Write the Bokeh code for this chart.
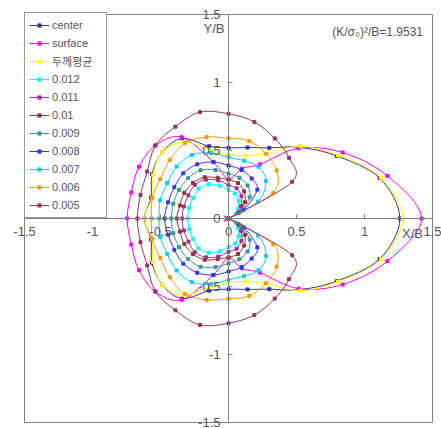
import numpy as np
from bokeh.plotting import figure
from bokeh.models import Legend, LegendItem, FixedTicker, Label
from bokeh.embed import file_html
from bokeh.resources import INLINE

# polar readings: radius at angles 0..180 deg (step 15); lower half mirrors the upper half
ANGLES_DEG = [0, 15, 30, 45, 60, 75, 90, 105, 120, 135, 150, 165, 180]

SERIES_NAMES = ["center", "surface", "두께평균", "0.012", "0.011", "0.01",
                "0.009", "0.008", "0.007", "0.006", "0.005"]

R_CENTER = [1.26, 1.15, 0.92, 0.74, 0.60, 0.54, 0.52, 0.55, 0.68, 0.69, 0.65, 0.59, 0.62]
R_SURFACE = [1.42, 1.21, 0.97, 0.73, 0.46, 0.38, 0.29, 0.43, 0.69, 0.76, 0.76, 0.74, 0.745]
R_THICK_AVG = [1.28, 1.16, 0.93, 0.75, 0.55, 0.48, 0.47, 0.52, 0.65, 0.69, 0.64, 0.58, 0.625]
R_0012 = [0, 0, 0.06, 0.10, 0.15, 0.19, 0.21, 0.25, 0.29, 0.31, 0.30, 0.30, 0.30]
R_0011 = [0, 0, 0.08, 0.13, 0.19, 0.23, 0.245, 0.29, 0.33, 0.35, 0.34, 0.34, 0.34]
R_0010 = [0, 0, 0.09, 0.17, 0.23, 0.27, 0.285, 0.31, 0.35, 0.37, 0.375, 0.37, 0.38]
R_0009 = [0, 0, 0.11, 0.22, 0.28, 0.31, 0.33, 0.37, 0.41, 0.42, 0.42, 0.42, 0.42]
R_0008 = [0, 0, 0.13, 0.30, 0.34, 0.37, 0.39, 0.43, 0.46, 0.47, 0.46, 0.46, 0.47]
R_0007 = [0, 0, 0.25, 0.39, 0.44, 0.44, 0.45, 0.50, 0.54, 0.54, 0.52, 0.52, 0.51]
R_0006 = [0, 0, 0.38, 0.50, 0.55, 0.59, 0.59, 0.62, 0.64, 0.61, 0.58, 0.58, 0.565]
R_0005 = [0, 0, 0.54, 0.63, 0.68, 0.735, 0.77, 0.81, 0.78, 0.76, 0.69, 0.67, 0.67]

SERIES_R = [R_CENTER, R_SURFACE, R_THICK_AVG, R_0012, R_0011, R_0010,
            R_0009, R_0008, R_0007, R_0006, R_0005]

COLORS = ["#333399", "#FF00FF", "#FFFF00", "#00FFFF", "#993399", "#993333",
          "#339999", "#3333FF", "#00CCFF", "#FF9900", "#993366"]

TICKS = [-1.5, -1.0, -0.5, 0.0, 0.5, 1.0, 1.5]
TICK_LABELS = ["-1.5", "-1", "-0.5", "0", "0.5", "1", "1.5"]

FONT = "Liberation Sans, Noto Sans CJK KR"
GRAY_TXT = "#555555"
GRAY_LINE = "#808080"

# the drawing area covers the whole page so that tick labels may pass the boxed region
W, H = 441, 428
PX_PER_UNIT = 136.0
X0_PX, Y0_PX = 228.0, 218.0
x_rng = (-X0_PX / PX_PER_UNIT, (W - X0_PX) / PX_PER_UNIT)
y_rng = (-(H - Y0_PX) / PX_PER_UNIT, Y0_PX / PX_PER_UNIT)

p = figure(width=W, height=H, x_range=x_rng, y_range=y_rng,
           output_backend="svg", toolbar_location=None,
           min_border_left=0, min_border_right=0, min_border_top=0, min_border_bottom=0)
p.outline_line_color = None
p.grid.visible = False
p.background_fill_color = "white"
p.border_fill_color = "white"

lo, hi = min(TICKS), max(TICKS)
# box around the -1.5..1.5 region
p.quad(left=[lo], right=[hi], bottom=[lo], top=[hi], fill_color=None,
       line_color=GRAY_LINE, line_width=1)

overrides = {t: l for t, l in zip(TICKS, TICK_LABELS)}
for ax in (p.xaxis[0], p.yaxis[0]):
    ax.fixed_location = 0
    ax.bounds = (lo, hi)
    ax.ticker = FixedTicker(ticks=TICKS)
    ax.major_label_overrides = overrides
    ax.axis_line_color = GRAY_LINE
    ax.major_tick_line_color = GRAY_LINE
    ax.major_tick_in = 4
    ax.major_tick_out = 0
    ax.minor_tick_line_color = None
    ax.major_label_text_font = FONT
    ax.major_label_text_font_size = "13px"
    ax.major_label_text_color = GRAY_TXT
    ax.major_label_standoff = 8

items = []
for name, r, color in zip(SERIES_NAMES, SERIES_R, COLORS):
    r_full = list(r) + list(r[-2:0:-1])
    ang_full = list(ANGLES_DEG) + [360 - a for a in ANGLES_DEG[-2:0:-1]]
    th = np.radians(ang_full)
    xs = np.array(r_full) * np.cos(th)
    ys = np.array(r_full) * np.sin(th)
    n = len(xs)
    idx = np.arange(n)
    x0, y0 = xs, ys
    x1, y1 = xs[(idx + 1) % n], ys[(idx + 1) % n]
    xm, ym = xs[(idx - 1) % n], ys[(idx - 1) % n]
    x2, y2 = xs[(idx + 2) % n], ys[(idx + 2) % n]
    cx0 = x0 + (x1 - xm) / 6.0
    cy0 = y0 + (y1 - ym) / 6.0
    cx1 = x1 - (x2 - x0) / 6.0
    cy1 = y1 - (y2 - y0) / 6.0
    p.bezier(x0=x0, y0=y0, x1=x1, y1=y1, cx0=cx0, cy0=cy0, cx1=cx1, cy1=cy1,
             line_color=color, line_width=1)
    sc = p.scatter(xs, ys, marker="square", size=3, fill_color=color, line_color=color)
    # line renderer used for the legend swatch (curve itself is drawn by the bezier above)
    ln = p.line(np.append(xs, xs[0]), np.append(ys, ys[0]), line_color=color,
                line_width=1, visible=False)
    items.append(LegendItem(label=name, renderers=[ln, sc]))

legend = Legend(items=items, location=(24, H - 218), margin=0, padding=4,
                spacing=2, glyph_height=8, label_height=16, glyph_width=20,
                label_standoff=3, label_width=50,
                label_text_font=FONT, label_text_font_size="11px",
                label_text_color=GRAY_TXT,
                border_line_color="#333333", border_line_width=1,
                background_fill_color="white", background_fill_alpha=1.0)
p.add_layout(legend)

p.add_layout(Label(x=-0.03, y=1.40, text="Y/B", text_align="right", text_baseline="middle",
                   text_font=FONT, text_font_size="13px", text_color=GRAY_TXT))
p.add_layout(Label(x=1.43, y=-0.11, text="X/B", text_align="right", text_baseline="middle",
                   text_font=FONT, text_font_size="13px", text_color=GRAY_TXT))
p.add_layout(Label(x=1.43, y=1.375, text="(K/σ₀)²/B=1.9531", text_align="right",
                   text_baseline="middle", text_font=FONT, text_font_size="12px",
                   text_color=GRAY_TXT))

open("out.html", "w").write(file_html(p, INLINE))
